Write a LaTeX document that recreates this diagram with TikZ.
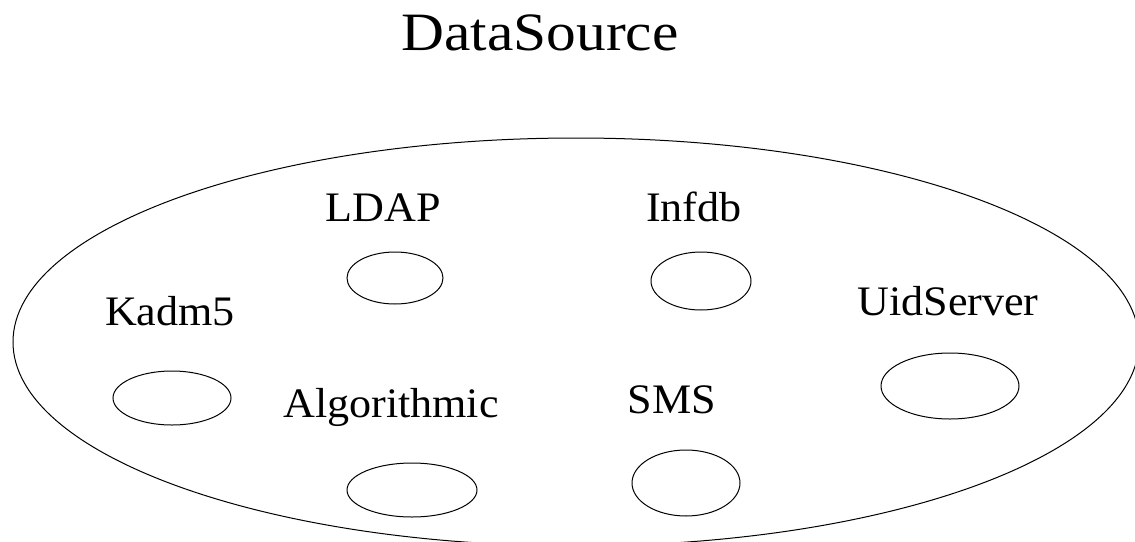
\documentclass[tikz,border=0pt]{standalone}
\usepackage{fontspec}
\setmainfont{Liberation Serif}
\usepackage{graphicx}
\usepackage{tikz}
\usetikzlibrary{shapes}

\newcommand{\widetext}[2][1.05]{\scalebox{#1}[1]{#2}}
\tikzset{
	srcname/.style = {font=\fontsize{42}{44}\selectfont, anchor=base, inner sep=0pt},
	title/.style = {font=\fontsize{54}{56}\selectfont, anchor=base, inner sep=0pt},
	source/.style = {ellipse, draw, line width=1pt, inner sep=0pt}
}

\begin{document}
\begin{tikzpicture}[x=1pt, y=-1pt, line width=1pt]
			\useasboundingbox (0,0) rectangle (1135,541);
			\clip (0,0) rectangle (1135,541);
			\node [title] (datasource) at (540,50) {\widetext[1.1]{DataSource}};
			\node [ellipse, draw, inner sep=0pt, minimum width=1126pt, minimum height=408pt] (pool) at (576,342) {};
			\node [srcname] (ldap) at (383,221) {\widetext{LDAP}};
			\node [source, minimum width=96pt, minimum height=52pt] (ldapE) at (395,278) {};
			\node [srcname] (infdb) at (694,221) {\widetext{Infdb}};
			\node [source, minimum width=100pt, minimum height=58pt] (infdbE) at (701,281) {};
			\node [srcname] (kadm) at (170,325) {\widetext{Kadm5}};
			\node [source, minimum width=118pt, minimum height=54pt] (kadmE) at (172,398) {};
			\node [srcname] (uid) at (948,315) {\widetext{UidServer}};
			\node [source, minimum width=138pt, minimum height=66pt] (uidE) at (950,386) {};
			\node [srcname] (algo) at (391,417) {\widetext{Algorithmic}};
			\node [source, minimum width=130pt, minimum height=54pt] (algoE) at (412,490) {};
			\node [srcname] (sms) at (672,413) {\widetext{SMS}};
			\node [source, minimum width=108pt, minimum height=66pt] (smsE) at (686,483) {};
		\end{tikzpicture}
\end{document}
